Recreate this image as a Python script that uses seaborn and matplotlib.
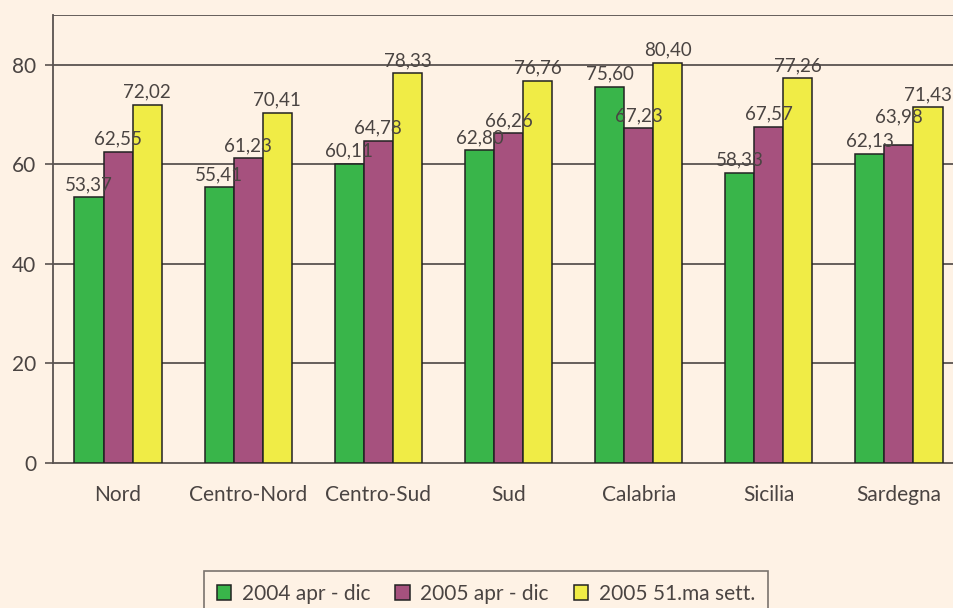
import matplotlib
matplotlib.use("Agg")
import matplotlib.pyplot as plt
import numpy as np
import pandas as pd
import seaborn as sns

regions = ["Nord", "Centro-Nord", "Centro-Sud", "Sud", "Calabria", "Sicilia", "Sardegna"]
series = ["2004 apr - dic", "2005 apr - dic", "2005 51.ma sett."]
v2004 = [53.37, 55.41, 60.11, 62.80, 75.60, 58.33, 62.13]
v2005 = [62.55, 61.23, 64.78, 66.26, 67.23, 67.57, 63.98]
v2005_51 = [72.02, 70.41, 78.33, 76.76, 80.40, 77.26, 71.43]
colors = ["#39b54a", "#a6517e", "#f0ec46"]

bg = "#fef2e5"
ink = "#4a4442"
line = "#5a5350"

df = pd.DataFrame({
    "regione": regions * 3,
    "serie": [s for s in series for _ in regions],
    "valore": v2004 + v2005 + v2005_51,
})

sns.set_style("white")
plt.rcParams["font.family"] = ["Lato", "DejaVu Sans"]

fig = plt.figure(figsize=(9.54, 6.08), dpi=100, facecolor=bg)
ax = fig.add_axes([53 / 954, 1 - 463 / 608, (964 - 53) / 954, (463 - 15) / 608])
ax.set_facecolor(bg)

sns.barplot(data=df, x="regione", y="valore", hue="serie", order=regions,
            hue_order=series, palette=colors, width=0.67, edgecolor="#222222",
            linewidth=1.1, saturation=1, ax=ax, zorder=3)

label_sets = []
for c in ax.containers:
    texts = ax.bar_label(c, labels=[f"{v:.2f}".replace(".", ",") for v in c.datavalues],
                         padding=3, fontsize=13.5, color=ink)
    label_sets.append(texts)

# as in the original, the Sardegna 2005 label sits a bit higher to clear its neighbour
label_sets[1][-1].xyann = (0, 14)

ax.set_ylim(0, 90)
ax.set_xlim(-0.5, len(regions) - 0.5)
ax.set_yticks([0, 20, 40, 60, 80])
for y in [20, 40, 60, 80, 90]:
    ax.axhline(y, color=line, lw=1.3, zorder=1)

ax.set_xticks(np.arange(-0.5, len(regions)), minor=True)
ax.tick_params(axis="x", which="major", length=0, pad=16, labelsize=15, labelcolor=ink)
ax.tick_params(axis="x", which="minor", length=6, width=1.2, color=line, direction="out")
ax.tick_params(axis="y", length=6, width=1.2, color=line, direction="out", left=True,
               labelsize=15, labelcolor=ink, pad=6)

for side in ["left", "bottom"]:
    ax.spines[side].set_color(line)
    ax.spines[side].set_linewidth(1.3)
ax.spines["top"].set_visible(False)
ax.spines["right"].set_visible(False)
ax.set_xlabel("")
ax.set_ylabel("")

handles, labels = ax.get_legend_handles_labels()
ax.get_legend().remove()
leg = fig.legend(handles, labels, loc="upper center", bbox_to_anchor=(486 / 954, 1 - 571 / 608),
                 ncol=3, frameon=True, fancybox=False, fontsize=15, handlelength=0.7,
                 handleheight=0.7, handletextpad=0.5, columnspacing=1.2,
                 borderpad=0.6, borderaxespad=0)
leg.get_frame().set_edgecolor(line)
leg.get_frame().set_facecolor(bg)
leg.get_frame().set_linewidth(1.2)
for t in leg.get_texts():
    t.set_color(ink)

fig.savefig("out.png", dpi=100, facecolor=bg)
